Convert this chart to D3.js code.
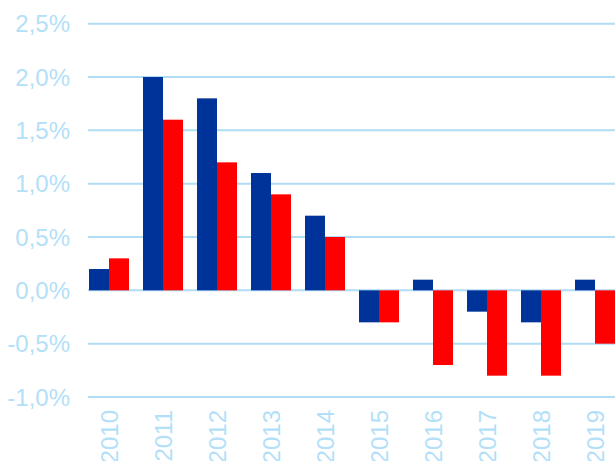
<!DOCTYPE html>
<html><head><meta charset="utf-8">
<script src="https://cdn.jsdelivr.net/npm/d3@7"></script>
<style>body{margin:0;background:#fff;}svg{display:block;}</style>
</head><body>
<script>
const years = ["2010","2011","2012","2013","2014","2015","2016","2017","2018","2019"];
const seriesBlue = [0.2, 2.0, 1.8, 1.1, 0.7, -0.3, 0.1, -0.2, -0.3, 0.1];
const seriesRed  = [0.3, 1.6, 1.2, 0.9, 0.5, -0.3, -0.7, -0.8, -0.8, -0.5];
const yTicks = [-1.0, -0.5, 0.0, 0.5, 1.0, 1.5, 2.0, 2.5];

const W = 615, H = 461;
const svg = d3.select("body").append("svg").attr("width", W).attr("height", H);
const labelColor = "#b3dff8", gridColor = "#b0dcf4";

const y = d3.scaleLinear().domain([-1.0, 2.5]).range([397, 23.7]);
const x = d3.scaleBand().domain(years).range([82, 622]).paddingInner(14/54).paddingOuter(7/54);
const xs = d3.scaleBand().domain(["b","r"]).range([0, x.bandwidth()]);

const fmt = v => v.toFixed(1).replace(".", ",") + "%";

svg.append("g").selectAll("line").data(yTicks).join("line")
  .attr("x1", 88).attr("x2", W).attr("y1", d => y(d)).attr("y2", d => y(d))
  .attr("stroke", gridColor).attr("stroke-width", 2);

svg.append("g").selectAll("text").data(yTicks).join("text")
  .attr("x", 70).attr("y", d => y(d)).attr("dy", "0.36em")
  .attr("text-anchor", "end").attr("font-family", "Liberation Sans, Arial, sans-serif")
  .attr("font-size", 24).attr("fill", labelColor).text(fmt);

const data = years.map((yr, i) => ({yr, b: seriesBlue[i], r: seriesRed[i]}));
const g = svg.append("g");
[["b", "#003399"], ["r", "#ff0000"]].forEach(([k, c]) => {
  g.selectAll("rect." + k).data(data).join("rect").attr("class", k)
    .attr("x", d => x(d.yr) + xs(k)).attr("width", xs.bandwidth())
    .attr("y", d => y(Math.max(0, d[k]))).attr("height", d => Math.abs(y(d[k]) - y(0)))
    .attr("fill", c);
});

svg.append("g").selectAll("text").data(years).join("text")
  .attr("transform", d => `translate(${x(d) + x.bandwidth()/2},410) rotate(-90)`)
  .attr("dy", "0.36em").attr("text-anchor", "end")
  .attr("font-family", "Liberation Sans, Arial, sans-serif")
  .attr("font-size", 24).attr("fill", labelColor).text(d => d);
</script>
</body></html>
